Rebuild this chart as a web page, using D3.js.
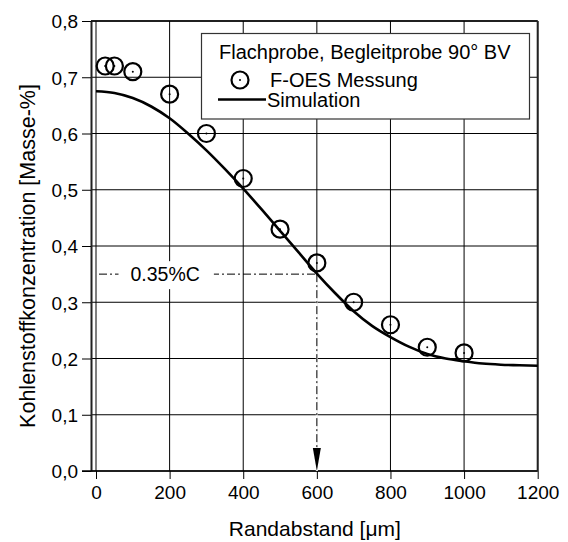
<!DOCTYPE html>
<html>
<head>
<meta charset="utf-8">
<script src="https://cdn.jsdelivr.net/npm/d3@7"></script>
<style>
  html, body { margin: 0; padding: 0; background: #fff; }
  svg { display: block; }
  text { font-family: "Liberation Sans", Arial, sans-serif; fill: #000; }
</style>
</head>
<body>
<svg id="chart" width="568" height="542"></svg>
<script>
// Measured carbon content (F-OES) over distance from the surface
const measDist = [25, 50, 100, 200, 300, 400, 500, 600, 700, 800, 900, 1000];
const measC    = [0.72, 0.72, 0.71, 0.67, 0.60, 0.52, 0.43, 0.37, 0.30, 0.26, 0.22, 0.21];

// Simulated carbon profile
const simDist = [0, 50, 100, 150, 200, 250, 300, 350, 400, 450, 500, 550, 600,
                 650, 700, 750, 800, 850, 900, 950, 1000, 1050, 1100, 1150, 1200];
const simC    = [0.675, 0.672, 0.663, 0.648, 0.627, 0.600, 0.570, 0.537, 0.502, 0.465,
                 0.427, 0.389, 0.351, 0.316, 0.284, 0.258, 0.238, 0.221, 0.208, 0.200,
                 0.195, 0.191, 0.189, 0.188, 0.187];

// Axis ticks
const xTicks = [0, 200, 400, 600, 800, 1000, 1200];
const xTickLabels = ["0", "200", "400", "600", "800", "1000", "1200"];
const yTicks = [0.0, 0.1, 0.2, 0.3, 0.4, 0.5, 0.6, 0.7, 0.8];
const yTickLabels = ["0,0", "0,1", "0,2", "0,3", "0,4", "0,5", "0,6", "0,7", "0,8"];

// Reference level marked on the profile
const refLevel = 0.35;
const refDist = 600;
const refLabel = "0.35%C";
const refLabelAt = 188;   // label centre along the distance axis

const legendTitle = "Flachprobe, Begleitprobe 90° BV";
const legendMeas = "F-OES Messung";
const legendSim = "Simulation";
const xTitle = "Randabstand [\u03bcm]";
const yTitle = "Kohlenstoffkonzentration [Masse-%]";

const svg = d3.select("#chart");
const x = d3.scaleLinear().domain([0, 1200]).range([96, 537.7]);
const y = d3.scaleLinear().domain([0, 0.8]).range([471, 21]);
const axisX = 91;          // y axis sits a little left of x = 0
const right = x(1200);

// Grid
const grid = svg.append("g").attr("stroke", "#000").attr("stroke-width", 1);
grid.selectAll("line.v").data(xTicks).join("line")
  .attr("x1", d => x(d)).attr("x2", d => x(d))
  .attr("y1", y(0.8)).attr("y2", y(0));
grid.selectAll("line.h").data(yTicks).join("line")
  .attr("x1", axisX).attr("x2", right)
  .attr("y1", d => y(d)).attr("y2", d => y(d));

// Y axis
const yAxis = d3.axisLeft(y).tickValues(yTicks)
  .tickFormat((d, i) => yTickLabels[i]).tickSize(9).tickSizeOuter(0).tickPadding(4);
const gy = svg.append("g").attr("transform", `translate(${axisX},0)`).call(yAxis);
gy.select(".domain").attr("stroke", "#222").attr("stroke-width", 2);
gy.selectAll(".tick line").attr("stroke", "#000");
gy.selectAll(".tick text").style("font-size", "19px").attr("dy", "0.36em")
  .style("font-family", "Liberation Sans, Arial, sans-serif");

// X axis
const xAxis = d3.axisBottom(x).tickValues(xTicks)
  .tickFormat((d, i) => xTickLabels[i]).tickSize(8).tickSizeOuter(0).tickPadding(5);
const gx = svg.append("g").attr("transform", `translate(0,${y(0)})`).call(xAxis);
gx.select(".domain").remove();
gx.selectAll(".tick line").attr("stroke", "#000");
gx.selectAll(".tick text").style("font-size", "19px").attr("dy", "0.8em")
  .style("font-family", "Liberation Sans, Arial, sans-serif");
svg.append("line").attr("x1", axisX - 9).attr("x2", right)
  .attr("y1", y(0)).attr("y2", y(0)).attr("stroke", "#000").attr("stroke-width", 1.3);

// Frame
svg.append("line").attr("x1", axisX).attr("x2", right)
  .attr("y1", y(0.8)).attr("y2", y(0.8)).attr("stroke", "#000").attr("stroke-width", 1.3);
svg.append("line").attr("x1", right).attr("x2", right)
  .attr("y1", y(0.8)).attr("y2", y(0)).attr("stroke", "#222").attr("stroke-width", 2);

// Reference level: horizontal dash-dot line with label
const dashPattern = "8,3,2,3";
svg.append("line").attr("x1", x(0) + 3).attr("x2", x(refDist))
  .attr("y1", y(refLevel)).attr("y2", y(refLevel))
  .attr("stroke", "#000").attr("stroke-width", 1).attr("stroke-dasharray", dashPattern);
const refText = svg.append("text").attr("x", x(refLabelAt)).attr("y", y(refLevel))
  .attr("dy", "0.36em").attr("text-anchor", "middle").style("font-size", "19.5px").text(refLabel);
const bb = refText.node().getBBox();
svg.insert("rect", () => refText.node())
  .attr("x", bb.x - 12).attr("y", bb.y - 2).attr("width", bb.width + 26).attr("height", bb.height + 6)
  .attr("fill", "#fff");

// Vertical dash-dot drop to the axis with arrow
const arrowLen = 23;
svg.append("line").attr("x1", x(refDist)).attr("x2", x(refDist))
  .attr("y1", y(refLevel)).attr("y2", y(0))
  .attr("stroke", "#fff").attr("stroke-width", 2);
svg.append("line").attr("x1", x(refDist)).attr("x2", x(refDist))
  .attr("y1", y(refLevel)).attr("y2", y(0) - arrowLen + 2)
  .attr("stroke", "#000").attr("stroke-width", 1).attr("stroke-dasharray", dashPattern);
svg.append("path")
  .attr("d", `M${x(refDist)},${y(0)} L${x(refDist) - 4},${y(0) - arrowLen} L${x(refDist) + 4},${y(0) - arrowLen} Z`)
  .attr("fill", "#000");

// Simulation curve
const line = d3.line().x((d, i) => x(simDist[i])).y(d => y(d)).curve(d3.curveMonotoneX);
svg.append("path").datum(simC).attr("d", line)
  .attr("fill", "none").attr("stroke", "#000").attr("stroke-width", 2.6);

// Measured points
const pts = svg.append("g").selectAll("g").data(measC).join("g")
  .attr("transform", (d, i) => `translate(${x(measDist[i])},${y(d)})`);
pts.append("circle").attr("r", 8.5).attr("fill", "none").attr("stroke", "#000").attr("stroke-width", 2.2);
pts.append("circle").attr("r", 1).attr("fill", "#000");

// Legend
const lg = svg.append("g");
lg.append("rect").attr("x", 201.5).attr("y", 33.5).attr("width", 328).attr("height", 85.5)
  .attr("fill", "#fff").attr("stroke", "#333").attr("stroke-width", 1.2);
lg.append("text").attr("x", 219).attr("y", 59).style("font-size", "20px").text(legendTitle);
lg.append("circle").attr("cx", 240).attr("cy", 80).attr("r", 8.5)
  .attr("fill", "none").attr("stroke", "#000").attr("stroke-width", 2.2);
lg.append("circle").attr("cx", 240).attr("cy", 80).attr("r", 1).attr("fill", "#000");
lg.append("text").attr("x", 270).attr("y", 86.5).style("font-size", "20px").text(legendMeas);
lg.append("line").attr("x1", 218).attr("x2", 266).attr("y1", 99.5).attr("y2", 99.5)
  .attr("stroke", "#000").attr("stroke-width", 2.6);
lg.append("text").attr("x", 267).attr("y", 106.5).style("font-size", "20px").text(legendSim);

// Axis titles
svg.append("text").attr("x", (x(0) + x(1200)) / 2 - 2).attr("y", 536)
  .attr("text-anchor", "middle").style("font-size", "21px").text(xTitle);
svg.append("text").attr("transform", "translate(35,256) rotate(-90)")
  .attr("text-anchor", "middle").style("font-size", "21.5px").text(yTitle);
</script>
</body>
</html>
